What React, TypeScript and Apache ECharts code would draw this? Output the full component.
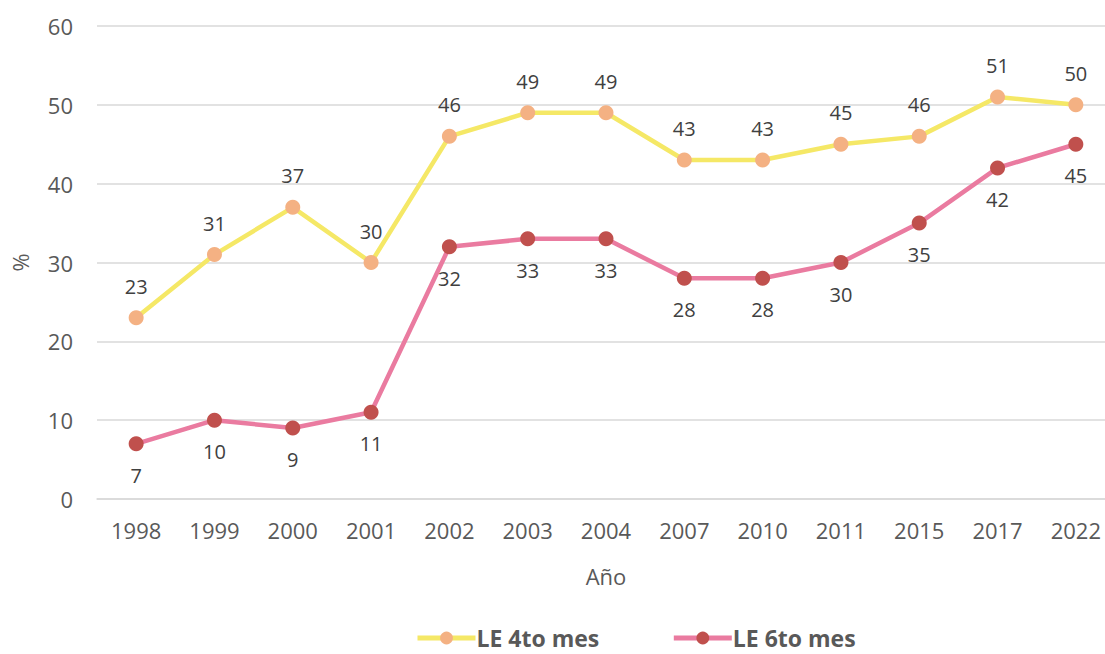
import React, { useEffect, useRef } from "react";
import * as echarts from "echarts";

const years = ["1998", "1999", "2000", "2001", "2002", "2003", "2004", "2007", "2010", "2011", "2015", "2017", "2022"];
const le4 = [23, 31, 37, 30, 46, 49, 49, 43, 43, 45, 46, 51, 50];
const le6 = [7, 10, 9, 11, 32, 33, 33, 28, 28, 30, 35, 42, 45];
const seriesNames = ["LE 4to mes", "LE 6to mes"];

const FONT = "'Open Sans', 'Noto Sans', sans-serif";

export default function App() {
  const ref = useRef<HTMLDivElement>(null);
  useEffect(() => {
    document.body.style.margin = "0";
    document.body.style.overflow = "hidden";
    const chart = echarts.init(ref.current!, null, { renderer: "svg" });
    chart.setOption({
      animation: false,
      backgroundColor: "#ffffff",
      textStyle: { fontFamily: FONT },
      grid: { left: 97, right: 5, top: 26, bottom: 155 },
      xAxis: {
        type: "category",
        data: years,
        boundaryGap: true,
        name: "Año",
        nameLocation: "middle",
        nameGap: 66,
        nameTextStyle: { fontSize: 22, color: "#595959", fontFamily: FONT },
        axisLine: { lineStyle: { color: "#d9d9d9", width: 1.5 } },
        axisTick: { show: false },
        axisLabel: { fontSize: 22, color: "#595959", margin: 20, fontFamily: FONT },
      },
      yAxis: {
        type: "value",
        min: 0,
        max: 60,
        interval: 10,
        name: "%",
        nameLocation: "middle",
        nameGap: 66,
        nameRotate: 90,
        nameTextStyle: { fontSize: 22, color: "#595959", fontFamily: FONT },
        axisLine: { show: false },
        axisTick: { show: false },
        splitLine: { lineStyle: { color: "#d9d9d9", width: 1.5 } },
        axisLabel: { fontSize: 22, color: "#595959", margin: 24, fontFamily: FONT },
      },
      legend: {
        top: 621,
        left: 410,
        itemWidth: 58,
        itemHeight: 16,
        itemGap: 72,
        lineStyle: { width: 5 },
        textStyle: { fontSize: 23, lineHeight: 24, fontWeight: "bold", color: "#595959", fontFamily: FONT, padding: [0, 0, 0, -4] },
        data: seriesNames,
      },
      series: [
        {
          name: seriesNames[0],
          type: "line",
          data: le4,
          symbol: "circle",
          symbolSize: 15,
          lineStyle: { color: "#F5E866", width: 4.5 },
          itemStyle: { color: "#F4B183" },
          label: { show: true, position: "top", distance: 14, fontSize: 20, color: "#404040", fontFamily: FONT },
          z: 2,
        },
        {
          name: seriesNames[1],
          type: "line",
          data: le6,
          symbol: "circle",
          symbolSize: 15,
          lineStyle: { color: "#EA7BA0", width: 4.5 },
          itemStyle: { color: "#C0504D" },
          label: { show: true, position: "bottom", distance: 14, fontSize: 20, color: "#404040", fontFamily: FONT },
          z: 3,
        },
      ],
    });
    return () => chart.dispose();
  }, []);
  return <div ref={ref} style={{ width: 1120, height: 654 }} />;
}
